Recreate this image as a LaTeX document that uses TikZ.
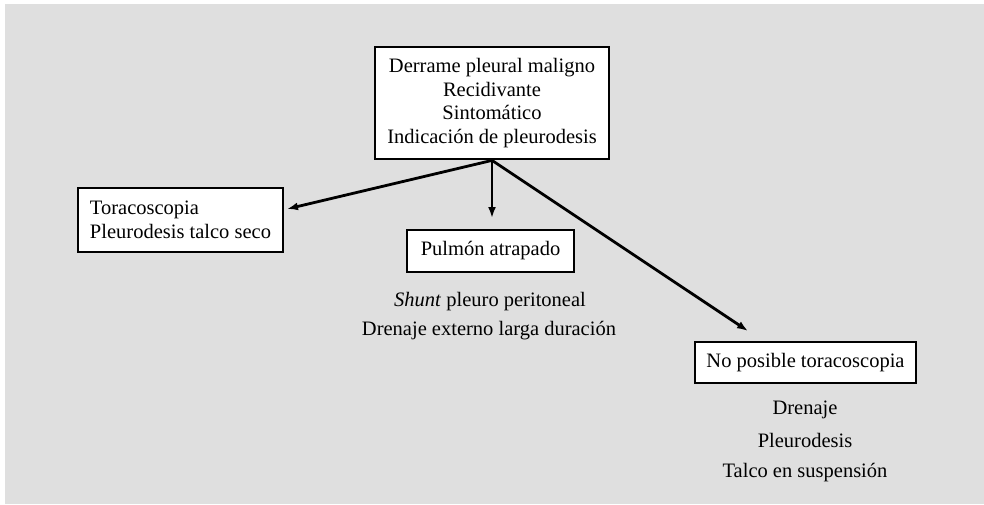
\documentclass[tikz,border=0pt]{standalone}
\usepackage{fontspec}
\setmainfont{Liberation Serif}
\definecolor{FondoGris}{RGB}{223,223,223}
\colorlet{FondoCaja}{white}
\usetikzlibrary{arrows.meta}
\tikzset{
    caja/.style={
        draw, fill=FondoCaja, line width=2.8pt, inner sep=0pt,
        font=\fontsize{20.5}{23.5}\selectfont
    },
    texto/.style={
        inner sep=0pt, font=\fontsize{20.5}{23.5}\selectfont
    },
    flecha/.style={
        line width=2.8pt, -{Latex[length=11pt, width=8pt]}
    }
}
\begin{document}
\begin{tikzpicture}[x=1pt, y=-1pt]

% Fijar márgenes y colorear el fondo.
\useasboundingbox (0, 0) rectangle (984, 504);
\fill[FondoGris] (5, 4) rectangle (984, 504);

% Cajas del diagrama.
\node[caja, minimum width=234pt, minimum height=112pt, align=center]
    (derrame) at (492, 103)
    {Derrame pleural maligno\\Recidivante\\Sintomático\\Indicación de pleurodesis};
\node[caja, minimum width=205pt, minimum height=64pt, align=left]
    (toraco) at (180.5, 220)
    {Toracoscopia\\Pleurodesis talco seco};
\node[caja, minimum width=167pt, minimum height=42pt]
    (pulmon) at (490.5, 251) {Pulmón atrapado};
\node[caja, minimum width=221pt, minimum height=41pt]
    (noposible) at (805.5, 362.5) {No posible toracoscopia};

% Textos sin caja.
\node[texto] (shunt) at (490, 302) {\textit{Shunt} pleuro peritoneal};
\node[texto] (externo) at (489, 331) {Drenaje externo larga duración};
\node[texto] (drenaje) at (805, 410) {Drenaje};
\node[texto] (pleuro) at (805, 440) {Pleurodesis};
\node[texto] (talco) at (805, 473) {Talco en suspensión};

% Puntas libres de las flechas.
\coordinate (toraco punta) at (287, 209);
\coordinate (pulmon punta) at (492, 218);
\coordinate (noposible punta) at (748, 331);

% Dibujar flechas desde la caja superior.
\draw[flecha] (derrame.south) -- (toraco punta);
\draw[flecha] (derrame.south) -- (pulmon punta);
\draw[flecha] (derrame.south) -- (noposible punta);

\end{tikzpicture}
\end{document}
